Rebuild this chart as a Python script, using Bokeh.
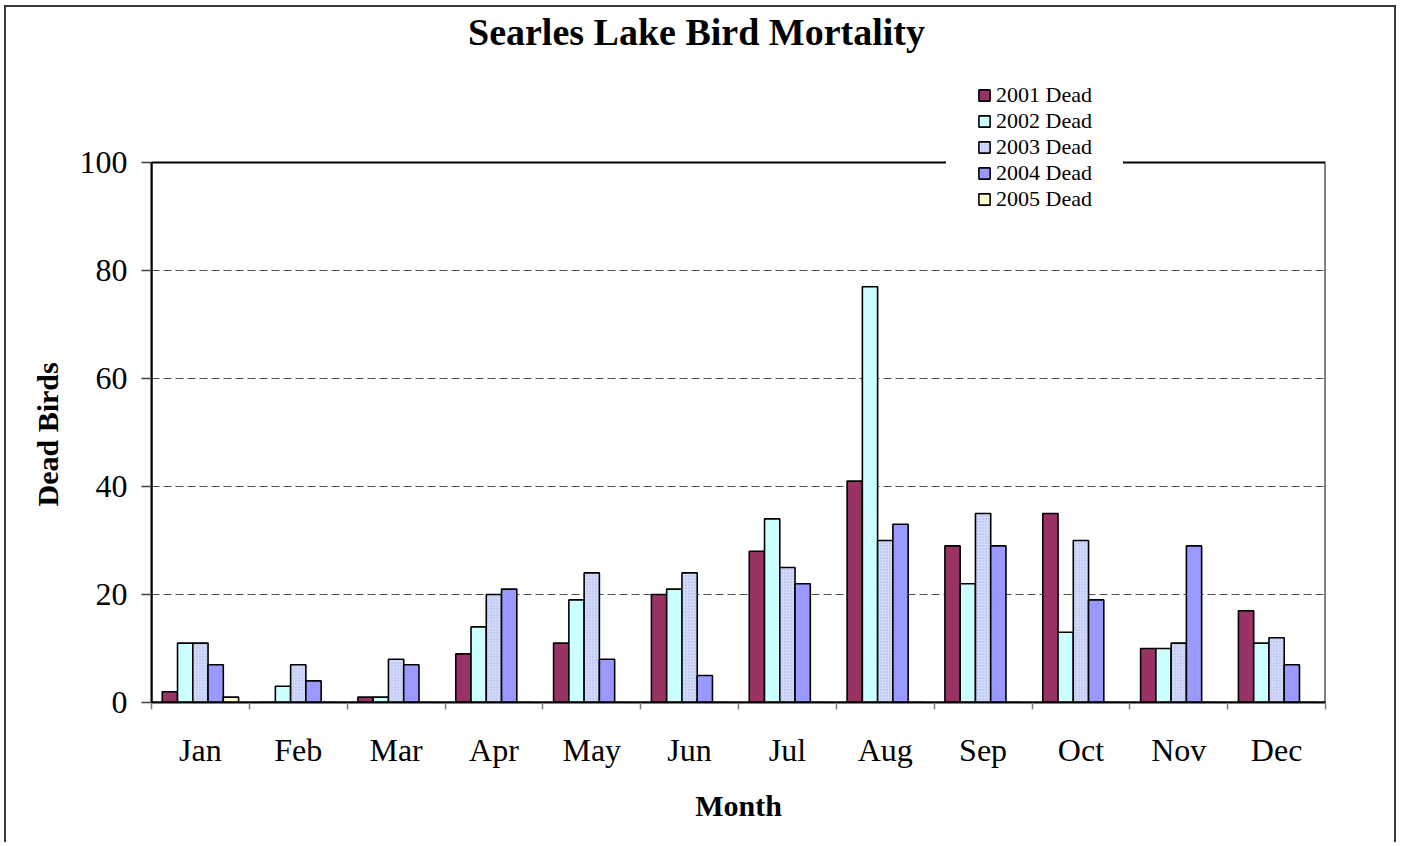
from bokeh.plotting import figure
from bokeh.models import (Range1d, FixedTicker, Legend, LegendItem,
                          Label, ColumnDataSource, BoxAnnotation, Title)
from bokeh.transform import dodge
from bokeh.embed import file_html
from bokeh.resources import INLINE

# ---- data ----
months = ["Jan", "Feb", "Mar", "Apr", "May", "Jun",
          "Jul", "Aug", "Sep", "Oct", "Nov", "Dec"]
dead_2001 = [2, 0, 1, 9, 11, 20, 28, 41, 29, 35, 10, 17]
dead_2002 = [11, 3, 1, 14, 19, 21, 34, 77, 22, 13, 10, 11]
dead_2003 = [11, 7, 8, 20, 24, 24, 25, 30, 35, 30, 11, 12]
dead_2004 = [7, 4, 7, 21, 8, 5, 22, 33, 29, 19, 29, 7]
dead_2005 = [1, 0, 0, 0, 0, 0, 0, 0, 0, 0, 0, 0]
series_labels = ["2001 Dead", "2002 Dead", "2003 Dead", "2004 Dead", "2005 Dead"]
y_ticks = [0, 20, 40, 60, 80, 100]
y_max = 100

# ---- layout / styles ----
SERIF = "Liberation Serif"
colors = ["#993366", "#CCFFFF", "#D2DBFB", "#9999FF", "#FFFFCC"]

CANVAS_TOP = 7          # page y of canvas top
FRAME_TOP_AXIS = 162    # page y where value 100 sits
FRAME_BOTTOM = 702      # page y where value 0 sits
px_per_unit = (FRAME_BOTTOM - FRAME_TOP_AXIS) / y_max
y_end = y_max + (FRAME_TOP_AXIS - CANVAS_TOP) / px_per_unit

centers = [i + 0.5 for i in range(len(months))]
bounds = [float(i) for i in range(len(months) + 1)]

src = ColumnDataSource(dict(x=centers, d2001=dead_2001, d2002=dead_2002,
                            d2003=dead_2003, d2004=dead_2004, d2005=dead_2005))
cols = ["d2001", "d2002", "d2003", "d2004", "d2005"]

p = figure(width=1388, height=837,
           x_range=Range1d(0, len(months)), y_range=Range1d(0, y_end),
           output_backend="svg", toolbar_location=None,
           min_border_left=145, min_border_right=69,
           min_border_top=0, min_border_bottom=142)
# outer chart border on left, top and right (no bottom edge)
p.styles = {"margin-left": "6px", "margin-top": "7px",
            "box-shadow": "-2px -2px 0 0 #3a3a3a, 2px -2px 0 0 #3a3a3a"}
p.outline_line_color = None
p.background_fill_color = "white"
p.border_fill_color = "white"

w = 0.156
renderers = []
for i, (c, col) in enumerate(zip(cols, colors)):
    kw = {}
    if i == 2:
        kw = dict(hatch_pattern="dot", hatch_scale=3, hatch_color="#A9B6E6",
                  hatch_weight=1)
    r = p.vbar(x=dodge("x", (i - 2) * w, range=p.x_range), top=c, width=w,
               source=src, fill_color=col, line_color="black", line_width=1.6,
               **kw)
    renderers.append(r)

# x axis
xa = p.xaxis[0]
xa.ticker = FixedTicker(ticks=centers, minor_ticks=bounds)
xa.major_label_overrides = {c: m for c, m in zip(centers, months)}
xa.major_tick_line_color = None
xa.major_tick_out = 0
xa.major_tick_in = 0
xa.minor_tick_out = 7
xa.minor_tick_in = 0
xa.minor_tick_line_color = "#808080"
xa.minor_tick_line_width = 1.5
xa.axis_line_color = "black"
xa.axis_line_width = 2
xa.major_label_text_font = SERIF
xa.major_label_text_font_size = "32px"
xa.major_label_text_color = "black"
xa.major_label_standoff = 22
xa.axis_label = "Month"
xa.axis_label_text_font = SERIF
xa.axis_label_text_font_size = "30px"
xa.axis_label_text_font_style = "bold"
xa.axis_label_text_color = "black"
xa.axis_label_standoff = 18

# y axis
ya = p.yaxis[0]
ya.ticker = FixedTicker(ticks=y_ticks)
ya.bounds = (0, y_max)
ya.minor_tick_line_color = None
ya.major_tick_out = 10
ya.major_tick_in = 0
ya.major_tick_line_color = "#404040"
ya.major_tick_line_width = 1.5
ya.axis_line_color = "black"
ya.axis_line_width = 2
ya.major_label_text_font = SERIF
ya.major_label_text_font_size = "32px"
ya.major_label_text_color = "black"
ya.major_label_standoff = 14

# y-axis title, centred on the 0..100 span
ytitle = Title(text="Dead Birds", align="left", offset=196, standoff=26,
               text_font=SERIF, text_font_size="30px", text_font_style="bold",
               text_color="black", vertical_align="bottom")
p.add_layout(ytitle, "left")

p.xgrid.visible = False
p.ygrid.grid_line_color = "#505050"
p.ygrid.grid_line_dash = "8 4"
p.ygrid.grid_line_width = 1.2

# plot-area frame (0..12 x 0..100)
frame_box = BoxAnnotation(left=0, right=len(months), bottom=0, top=y_max,
                          fill_alpha=0, line_color="black", line_alpha=1.0,
                          line_width=2)
p.add_layout(frame_box)

legend = Legend(items=[LegendItem(label=l, renderers=[r])
                       for l, r in zip(series_labels, renderers)],
                location=(795, 459), orientation="vertical",
                label_text_font=SERIF, label_text_font_size="22px",
                label_text_color="black", label_standoff=5,
                glyph_width=14, glyph_height=14, spacing=0, padding=30,
                border_line_color="white", border_line_width=1,
                background_fill_color="white",
                background_fill_alpha=1.0, margin=0)
p.add_layout(legend)

title = Label(x=545, y=FRAME_BOTTOM - 31, x_units="screen", y_units="screen",
              text="Searles Lake Bird Mortality", text_align="center",
              text_baseline="alphabetic", text_font=SERIF, text_font_size="38px",
              text_font_style="bold", text_color="black")
p.add_layout(title)

open("out.html", "w").write(file_html(p, INLINE))
